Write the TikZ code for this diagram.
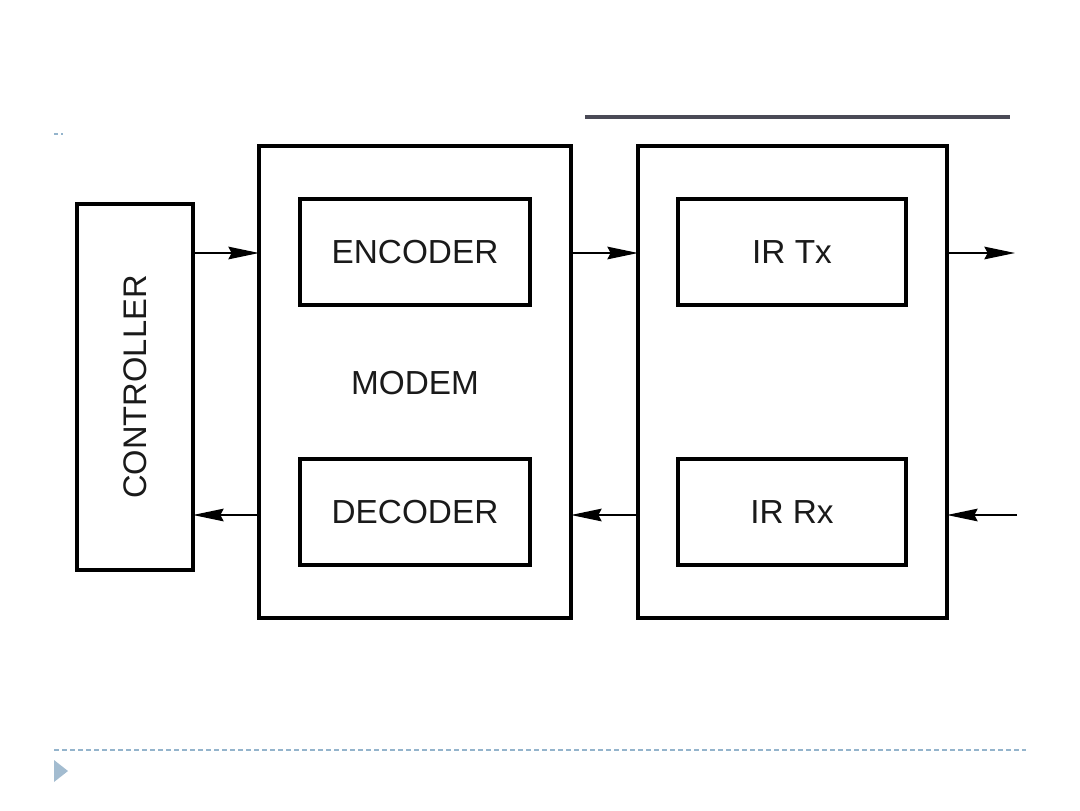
\documentclass[tikz,border=0pt]{standalone}
\usepackage{fontspec}
\setmainfont{Liberation Sans}
\usetikzlibrary{fit,arrows.meta,calc}
\definecolor{topline}{HTML}{4A4A56}
\definecolor{slideblue}{HTML}{94B4CC}
\definecolor{tri}{HTML}{A3BCD0}
\definecolor{txt}{HTML}{1A1A1A}
\begin{document}
\begin{tikzpicture}[x=0.75pt,y=-0.75pt,
  box/.style={draw=black,line width=2.3pt,inner sep=0pt,outer sep=0pt},
  boxtext/.style={text=txt,font=\fontsize{25}{30}\selectfont,inner sep=0pt},
  conn/.style={draw=black,line width=1.1pt,
    -{Stealth[length=23pt,width=9.5pt,inset=2.5pt]}}
]
\useasboundingbox (0,0) rectangle (1080,810);
% slide decorations
\draw[topline,line width=2.3pt] (585,117) -- (1010,117);
\draw[slideblue,line width=1.2pt] (54,134) -- (58,134);
\draw[slideblue,line width=1.0pt] (62,133) -- (62,135);
\draw[slideblue,line width=1.1pt,dash pattern=on 3.75pt off 2.25pt] (54,750) -- (1026,750);
\fill[tri] (54,760) -- (68,771) -- (54,782) -- cycle;
% blocks
\node[box,fit={(77,204)(193,570)}] (ctrl) {};
\node[boxtext,font=\fontsize{24.5}{30}\selectfont,rotate=90] (ctrltxt) at (ctrl.center) {CONTROLLER};
\node[box,fit={(259,146)(571,618)}] (modem) {};
\node[boxtext] (modemtxt) at (415,383) {MODEM};
\node[box,fit={(300,199)(530,305)}] (enc) {};
\node[boxtext] (enctxt) at (enc.center) {ENCODER};
\node[box,fit={(300,459)(530,565)}] (dec) {};
\node[boxtext] (dectxt) at (dec.center) {DECODER};
\node[box,fit={(638,146)(947,618)}] (ir) {};
\node[box,fit={(678,199)(906,305)}] (tx) {};
\node[boxtext] (txtxt) at (tx.center) {IR Tx};
\node[box,fit={(678,459)(906,565)}] (rx) {};
\node[boxtext] (rxtxt) at (rx.center) {IR Rx};
% free ends
\coordinate (out) at (1015,253);
\coordinate (in) at (1017,515);
% connectors
\draw[conn] (ctrl.east |- 0,253) -- (modem.west |- 0,253);
\draw[conn] (modem.east |- 0,253) -- (ir.west |- 0,253);
\draw[conn] (ir.east |- out) -- (out);
\draw[conn] (modem.west |- 0,515) -- (ctrl.east |- 0,515);
\draw[conn] (ir.west |- 0,515) -- (modem.east |- 0,515);
\draw[conn] (in) -- (ir.east |- in);
\end{tikzpicture}
\end{document}
